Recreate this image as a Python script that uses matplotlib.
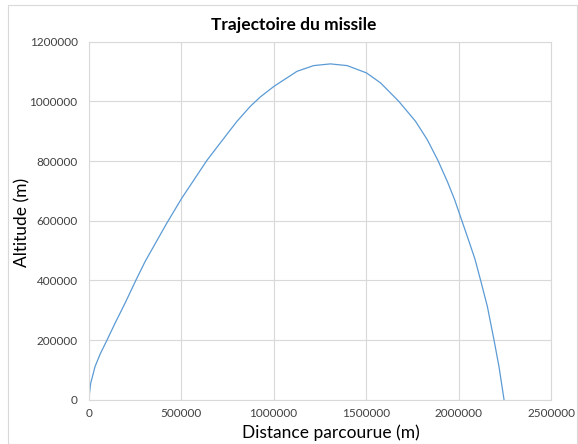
import matplotlib.pyplot as plt
import matplotlib.ticker as ticker
from matplotlib.patches import Rectangle

# ── Data ──────────────────────────────────────────────────
distance = [0, 10800, 34100, 61200, 99100, 142500, 196600, 256200, 305000,
            422500, 503800, 575800, 639200, 711300, 801700, 873800, 928000,
            1002100, 1126700, 1216700, 1307000, 1397600, 1502100, 1578000,
            1677000, 1767600, 1831000, 1888400, 1939300, 1979000, 2018000,
            2053600, 2088800, 2119700, 2156000, 2191700, 2218800, 2246000]
altitude = [0, 55000, 110700, 152000, 200000, 256400, 323500, 401700, 463100,
            592000, 675900, 743000, 802100, 860500, 933000, 983300, 1014800,
            1050400, 1100800, 1119900, 1125600, 1119900, 1095400, 1062000,
            1000000, 933000, 871500, 802100, 731600, 670200, 600000,
            536000, 471200, 399400, 312100, 200400, 110700, 0]

x_ticks = [0, 500000, 1000000, 1500000, 2000000, 2500000]
y_ticks = [0, 200000, 400000, 600000, 800000, 1000000, 1200000]

# ── Style ─────────────────────────────────────────────────
plt.rcParams["font.family"] = ["Lato", "DejaVu Sans"]
LINE = "#5B9BD5"
GRID = "#D9D9D9"

W, H = 578, 444
fig = plt.figure(figsize=(W / 100, H / 100), dpi=100)
ax = fig.add_axes([88.7 / W, 1 - 399.7 / H, (551 - 88.7) / W, (399.7 - 41.7) / H])

ax.plot(distance, altitude, color=LINE, linewidth=0.9,
        solid_joinstyle="round", solid_capstyle="round")

ax.set_xlim(0, 2500000)
ax.set_ylim(0, 1200000)
ax.xaxis.set_major_locator(ticker.FixedLocator(x_ticks))
ax.yaxis.set_major_locator(ticker.FixedLocator(y_ticks))
ax.xaxis.set_major_formatter(ticker.FuncFormatter(lambda v, _: f"{int(v)}"))
ax.yaxis.set_major_formatter(ticker.FuncFormatter(lambda v, _: f"{int(v)}"))

ax.grid(True, color=GRID, linewidth=0.8)
ax.set_axisbelow(True)
for sp in ax.spines.values():
    sp.set_color(GRID)
    sp.set_linewidth(0.8)
ax.tick_params(length=0, labelsize=8.5, labelcolor="#404040")
ax.tick_params(axis="y", pad=8)
ax.tick_params(axis="x", pad=6)

# titles placed like the Excel chart (centred on the chart frame)
fig.text(294 / W, 1 - 25 / H, "Trajectoire du missile", fontsize=12.5,
         fontweight="bold", ha="center", va="center")
fig.text(331 / W, 1 - 433 / H, "Distance parcourue (m)", fontsize=12.5,
         ha="center", va="center")
fig.text(22 / W, 1 - 222 / H, "Altitude (m)", fontsize=12.5, rotation=90,
         ha="center", va="center")

# outer chart frame
fig.patches.append(Rectangle((8 / W, 0), 569 / W, 1 - 5 / H,
                             transform=fig.transFigure, fill=False,
                             edgecolor=GRID, linewidth=0.8))

fig.savefig("out.png", dpi=100)
